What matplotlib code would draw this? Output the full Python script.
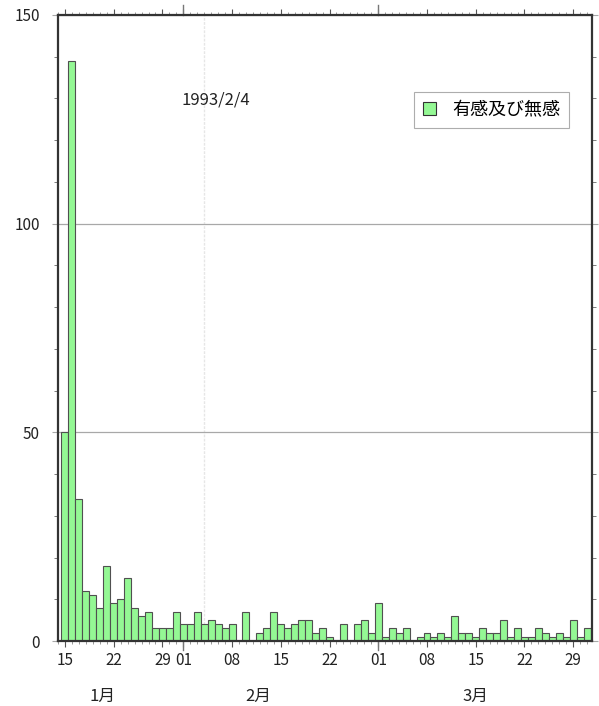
import matplotlib
matplotlib.use("Agg")
import matplotlib.pyplot as plt
from matplotlib.ticker import MultipleLocator, FixedLocator
import numpy as np
import pandas as pd
from matplotlib.patches import Patch

plt.rcParams['font.family'] = ['Noto Sans CJK JP', 'DejaVu Sans']

start_date = "1993-01-15"
end_date = "1993-03-31"
counts = [50, 139, 34, 12, 11, 8, 18, 9, 10, 15, 8, 6, 7, 3, 3, 3, 7,   # Jan 15-31
          4, 4, 7, 4, 5, 4, 3, 4, 0, 7, 0, 2, 3, 7, 4, 3, 4, 5, 5, 2, 3, 1, 0, 4, 0, 4, 5, 2,  # Feb
          9, 1, 3, 2, 3, 0, 1, 2, 1, 2, 1, 6, 2, 2, 1, 3, 2, 2, 5, 1, 3, 1, 1, 3, 2, 1, 2, 1, 5, 1, 3]  # Mar
week_labels = ["15", "22", "29", "01", "08", "15", "22", "01", "08", "15", "22", "29"]
week_dates = ["1993-01-15", "1993-01-22", "1993-01-29", "1993-02-01", "1993-02-08",
              "1993-02-15", "1993-02-22", "1993-03-01", "1993-03-08", "1993-03-15",
              "1993-03-22", "1993-03-29"]
month_labels = ["1月", "2月", "3月"]
month_label_offsets = [5.4, 27.7, 58.9]   # days after start
month_starts = ["1993-02-01", "1993-03-01"]
event_date = "1993-02-04"
event_label = "1993/2/4"
legend_label = "有感及び無感"

dates = pd.date_range(start_date, end_date, freq="D")
t0 = pd.Timestamp(start_date)
x = np.array([(d - t0).days for d in dates])

def dayof(s):
    return (pd.Timestamp(s) - t0).days

fig = plt.figure(figsize=(5.99, 7.06), dpi=100)
ax = fig.add_axes([58/599, 65/706, 534/599, 626/706])

bar_color = "#94F894"
ax.bar(x, counts, width=1.0, color=bar_color, edgecolor="#505050", linewidth=0.8, zorder=3)

ax.set_xlim(-1, 75.7)
ax.set_ylim(0, 150)

# grid
ax.set_yticks([0, 50, 100, 150])
ax.yaxis.set_minor_locator(MultipleLocator(10))
ax.grid(axis="y", which="major", color="#a8a8a8", linewidth=0.9, zorder=1)
ev = dayof(event_date)
ax.axvline(ev, color="#e6e6e6", linewidth=1.0, linestyle=(0, (2, 1)), zorder=1)

ax.tick_params(axis="y", which="major", direction="out", length=4, color="#a8a8a8",
               labelsize=11, pad=9, labelcolor="#222222")
ax.tick_params(axis="y", which="minor", direction="out", length=3, color="#666666",
               right=True)
ax.tick_params(axis="y", which="major", right=True)
ax.tick_params(axis="y", labelright=False)

wpos = [dayof(d) for d in week_dates]
ax.set_xticks(wpos)
ax.set_xticklabels(week_labels)
ax.xaxis.set_minor_locator(FixedLocator(list(range(-1, 77))))
ax.tick_params(axis="x", which="major", direction="out", length=4, color="#555555",
               labelsize=11, pad=4, labelcolor="#222222", top=True)
ax.tick_params(axis="x", which="minor", direction="out", length=2, color="#888888", top=True)

# longer month-start ticks
for ms in month_starts:
    p = dayof(ms)
    ax.plot([p, p], [0, -0.015], transform=ax.get_xaxis_transform(), color="#777777",
            linewidth=1.0, clip_on=False, zorder=5)
    ax.plot([p, p], [1, 1.016], transform=ax.get_xaxis_transform(), color="#777777",
            linewidth=1.0, clip_on=False, zorder=5)

for sp in ax.spines.values():
    sp.set_color("#333333")
    sp.set_linewidth(1.6)
    sp.set_zorder(6)

for lbl, d in zip(month_labels, month_label_offsets):
    ax.text(d, -0.088, lbl, transform=ax.get_xaxis_transform(),
            ha="center", va="center", fontsize=12, color="#222222")

ax.text(ev + 1.6, 129.6, event_label, ha="center", va="center", fontsize=12, color="#222222")

leg = ax.legend(handles=[Patch(facecolor=bar_color, edgecolor="#333333", linewidth=0.8,
                               label=legend_label)],
                loc="upper left", bbox_to_anchor=((414 - 58) / 534, 1 - (92 - 15) / 626),
                fontsize=13, frameon=True, fancybox=False, edgecolor="#999999",
                handlelength=0.7, handleheight=0.7, borderpad=0.5, handletextpad=0.9,
                borderaxespad=0)
leg.get_frame().set_linewidth(0.8)

fig.savefig("out.png", dpi=100)
